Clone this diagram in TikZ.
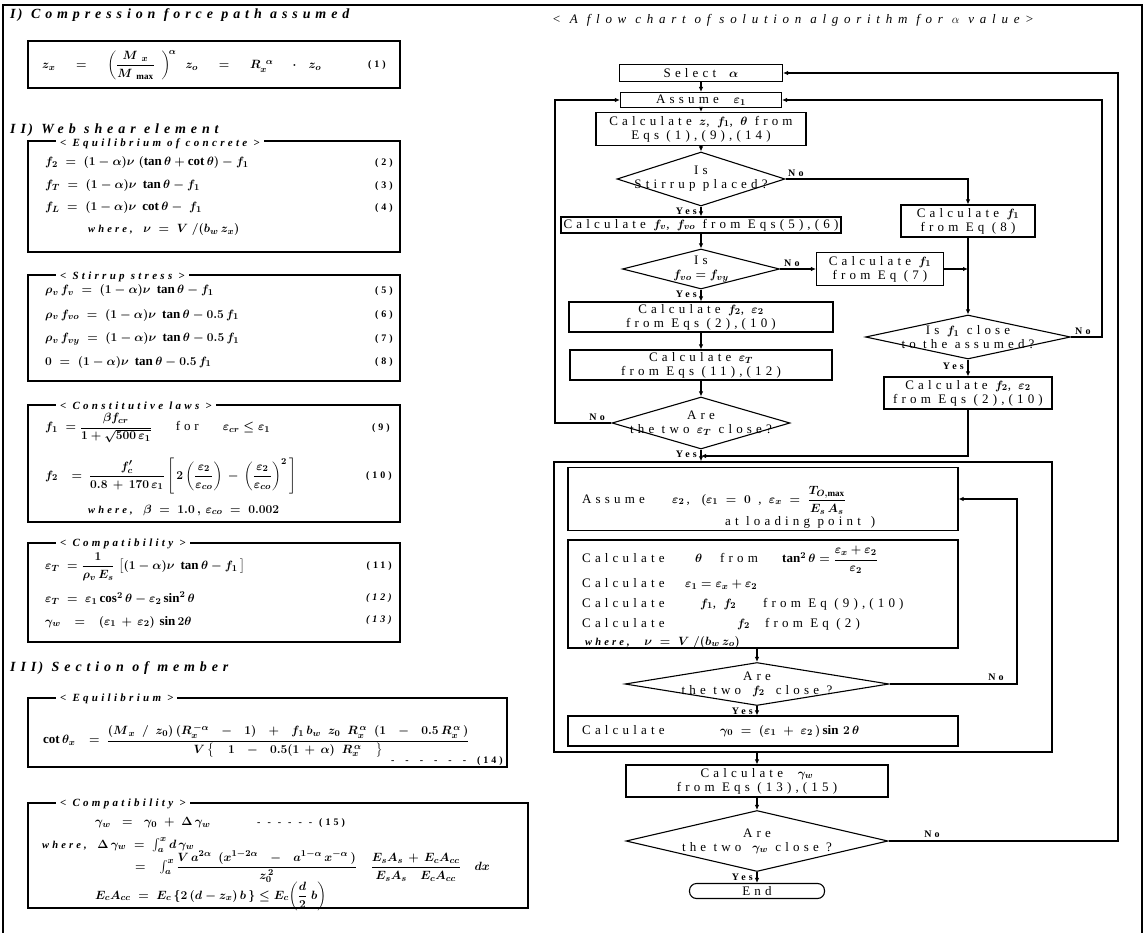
\documentclass[tikz,border=0pt]{standalone}
\usepackage{amsmath}
\usepackage{fontspec}
\setmainfont{Liberation Serif}
\newfontfamily\spfont[LetterSpace=32]{Liberation Serif}
\newfontfamily\hfont[LetterSpace=30]{Liberation Serif}
\newfontfamily\sfont[LetterSpace=35]{Liberation Serif}
\newfontfamily\tfont[LetterSpace=44]{Liberation Serif}
\usetikzlibrary{shapes.geometric,arrows.meta}

\newcommand{\fcfont}{\spfont\fontsize{13}{14}\selectfont\boldmath}
\newcommand{\ynfont}{\spfont\bfseries\fontsize{10}{11}\selectfont}
\newcommand{\eqfont}{\fontsize{13}{15}\selectfont\boldmath}
\newcommand{\eqwfont}{\fontsize{13}{15}\selectfont\boldmath\medmuskip=7mu\thickmuskip=9mu}
\newcommand{\numfont}{\hfont\bfseries\fontsize{10}{11}\selectfont}
\newcommand{\hdfont}{\hfont\bfseries\itshape\fontsize{11}{12}\selectfont}
\newcommand{\secfont}{\sfont\bfseries\itshape\fontsize{14}{15}\selectfont}
\newcommand{\whr}{{\hfont\bfseries\itshape\fontsize{10.5}{12}\selectfont where,}}
\newcommand{\dashnum}[2]{{\hfont\bfseries\fontsize{10}{11}\selectfont -\hspace{#1}-\hspace{#1}-\hspace{#1}-\hspace{#1}-\hspace{#1}-\hspace{#1}(#2)}}

\begin{document}
\begin{tikzpicture}[x=1pt,y=-1pt,
  frm/.style={line width=1.1pt},
  box/.style={draw,rectangle,line width=1.1pt,inner sep=0pt,align=center,font=\fcfont},
  dia/.style={draw,diamond,line width=1.1pt,inner sep=0pt},
  ftxt/.style={inner sep=0pt,align=center,font=\fcfont},
  yn/.style={inner sep=0pt,font=\ynfont},
  arr/.style={line width=1.1pt,-{Latex[length=5pt,width=4.5pt]}},
  eqn/.style={anchor=west,inner sep=0pt,font=\eqfont},
  eqw/.style={anchor=west,inner sep=0pt,font=\eqwfont},
  num/.style={anchor=east,inner sep=0pt,font=\numfont},
  hd/.style={anchor=west,fill=white,inner xsep=4pt,inner ysep=1pt,font=\hdfont},
  sec/.style={anchor=west,inner sep=0pt,font=\secfont}]

\useasboundingbox (0,0) rectangle (1145,933);

\draw[frm] (3,933) -- (3,5) -- (1142,5) -- (1142,933);

% left column
\node[sec] (secI) at (10,15) {I\,) Compression force path assumed};
\draw[line width=1.6pt] (28,41) rectangle (400,88);
\node[eqw] (eqA) at (42,65) {$z_x \;\;=\;\; \left(\dfrac{M_{\;x}}{M_{\;\mathrm{max}}}\;\right)^{\!\alpha}\; z_o \;\;=\;\; R_x^{\;\alpha}\;\;\cdot\; z_o$};
\node[num] (nA) at (386,65) {(1)};

\node[sec] (secII) at (10,130) {II\,) Web shear element};
\draw[frm] (28,141) rectangle (400,252);
\node[hd] (hdB) at (56,144) {< Equilibrium of concrete >};
\node[eqn] (eqB) at (45,163) {$f_2 \;=\; (1-\alpha)\nu\;(\tan\theta + \cot\theta) - f_1$};
\node[num] (nB) at (393,163) {(2)};
\node[eqn] (eqC) at (45,186) {$f_T \;=\; (1-\alpha)\nu\;\tan\theta - f_1$};
\node[num] (nC) at (393,186) {(3)};
\node[eqn] (eqD) at (45,208) {$f_L \;=\; (1-\alpha)\nu\;\cot\theta - \;f_1$};
\node[num] (nD) at (393,208) {(4)};
\node[eqn] (whB) at (88,230) {\whr\;\; $\nu \;=\; V\;/(b_w\, z_x)$};

\draw[frm] (28,275) rectangle (400,381);
\node[hd] (hdC) at (56,277) {< Stirrup stress >};
\node[eqn] (eqE) at (45,291) {$\rho_v\, f_v \;=\; (1-\alpha)\nu\;\tan\theta - f_1$};
\node[num] (nE) at (393,291) {(5)};
\node[eqn] (eqF) at (45,315) {$\rho_v\, f_{vo} \;=\; (1-\alpha)\nu\;\tan\theta - 0.5\,f_1$};
\node[num] (nF) at (393,315) {(6)};
\node[eqn] (eqG) at (45,339) {$\rho_v\, f_{vy} \;=\; (1-\alpha)\nu\;\tan\theta - 0.5\,f_1$};
\node[num] (nG) at (393,339) {(7)};
\node[eqn] (eqH) at (45,362) {$0 \;=\; (1-\alpha)\nu\;\tan\theta - 0.5\,f_1$};
\node[num] (nH) at (393,362) {(8)};

\draw[frm] (28,405) rectangle (400,522);
\node[hd] (hdD) at (56,406) {< Constitutive laws >};
\node[eqn] (eqI) at (45,428) {$f_1 \;=\dfrac{\beta f_{cr}}{1+\sqrt{500\,\varepsilon_1}}$\hspace{24pt}{\hfont for}\hspace{24pt}$\varepsilon_{cr} \le \varepsilon_1$};
\node[num] (nI) at (390,428) {(9)};
\node[eqw] (eqJ) at (45,476) {$f_2 \;=\dfrac{f_c'}{0.8+170\,\varepsilon_1}\left[\,2\left(\dfrac{\varepsilon_2}{\varepsilon_{co}}\right) - \left(\dfrac{\varepsilon_2}{\varepsilon_{co}}\right)^{2}\,\right]$};
\node[num] (nJ) at (392,476) {(10)};
\node[eqn] (whD) at (88,510) {\whr\;\; $\beta \;=\; 1.0\,,\,\varepsilon_{co} \;=\; 0.002$};

\draw[frm] (28,543) rectangle (400,642);
\node[hd] (hdE) at (56,544) {< Compatibility >};
\node[eqn] (eqK) at (45,567) {$\varepsilon_T \;=\dfrac{1}{\rho_v\, E_s}\;\bigl[(1-\alpha)\nu\;\tan\theta - f_1\,\bigr]$};
\node[num] (nK) at (392,566) {(11)};
\node[eqn] (eqL) at (45,598) {$\varepsilon_T \;=\; \varepsilon_1\cos^2\theta - \varepsilon_2\sin^2\theta$};
\node[num] (nL) at (392,598) {\itshape(12)};
\node[eqw] (eqM) at (45,622) {$\gamma_w \;=\; (\varepsilon_1 + \varepsilon_2)\,\sin 2\theta$};
\node[num] (nM) at (392,620) {\itshape(13)};

\node[sec] (secIII) at (10,668) {III\,) Section of member};
\draw[frm] (28,698) rectangle (507,767);
\node[hd] (hdF) at (56,699) {< Equilibrium >};
\node[eqw] (eqN) at (43,741) {$\cot\theta_x \;=\dfrac{(M_{\,x}\;/\;z_0)\,(R_x^{\,-\alpha}\;-\;1)\;+\;f_1\,b_w\;z_0\;R_x^{\,\alpha}\;(1\;-\;0.5\,R_x^{\,\alpha}\,)}{V\left\{\;\;1\;-\;0.5(1+\alpha)\;R_x^{\,\alpha}\;\;\right\}}$};
\node[num] (nN) at (503,761) {\dashnum{11pt}{14}};

\draw[frm] (28,803) rectangle (528,908);
\node[hd] (hdG) at (56,804) {< Compatibility >};
\node[eqn] (eqO) at (95,823) {$\gamma_w \;\;=\;\; \gamma_0 \;+\; \Delta\,\gamma_w$};
\node[num,anchor=west] (nO) at (257,823) {\dashnum{7pt}{15}};
\node[eqn] (eqP) at (42,845) {\whr\;\; $\Delta\,\gamma_w \;=\; \textstyle\int_a^x d\,\gamma_w$};
\node[eqw] (eqQ) at (135,867) {$=\; \textstyle\int_a^x\displaystyle\frac{V\, a^{2\alpha}\;(x^{1-2\alpha} \;-\; a^{1-\alpha}\,x^{-\alpha}\,)}{z_0^{\,2}}\;\;\frac{E_s A_s + E_c A_{cc}}{E_s A_s\;\; E_c A_{cc}}\;\;dx$};
\node[eqn] (eqR) at (95,896) {$E_c A_{cc} \;=\; E_c\left\{2\,(d - z_x)\,b\,\right\} \le E_c\!\left(\dfrac{d}{2}\;b\right)$};

% flow chart
\node[anchor=west,inner sep=0pt,font=\tfont\itshape\fontsize{13}{14}\selectfont] (ttl) at (552,20) {< A flow chart of solution algorithm for $\alpha$ value>};

\node[box,minimum width=163pt,minimum height=17pt] (sel) at (701,73) {Select\quad $\alpha$};
\node[box,minimum width=161pt,minimum height=15pt] (asma) at (701,100) {Assume\ \ $\varepsilon_1$};
\node[box,minimum width=210pt,minimum height=33pt] (calz) at (701,129) {Calculate $z$, $f_1$, $\theta$ from\\ Eqs (1),(9),(14)};
\node[dia,minimum width=168pt,minimum height=54pt] (stir) at (701,179) {};
\node[ftxt] (stirt) at (stir) {Is\\Stirrup placed?};
\node[box,minimum width=280pt,minimum height=16pt] (calv) at (701,225) {Calculate $f_v$, $f_{vo}$ from Eqs(5),(6)};
\node[dia,minimum width=157pt,minimum height=40pt] (fvo) at (701,269) {};
\node[ftxt] (fvot) at (fvo) {Is\\$f_{vo} = f_{vy}$};
\node[box,minimum width=264pt,minimum height=30pt] (calf) at (701,317) {Calculate $f_2$, $\varepsilon_2$\\from Eqs (2),(10)};
\node[box,minimum width=262pt,minimum height=30pt] (calt) at (701,365) {Calculate $\varepsilon_T$\\from Eqs (11),(12)};
\node[dia,minimum width=178pt,minimum height=52pt] (aret) at (701,423) {};
\node[ftxt] (arett) at (aret) {Are\\the two $\varepsilon_T$ close?};

\node[box,minimum width=134pt,minimum height=32pt] (ceq8) at (968,221) {Calculate $f_1$\\from Eq (8)};
\node[box,minimum width=127pt,minimum height=33pt] (ceq7) at (880,269) {Calculate $f_1$\\from Eq (7)};
\node[dia,minimum width=205pt,minimum height=44pt] (isf) at (968,337) {};
\node[ftxt] (isft) at (isf) {Is $f_1$ close\\to the assumed?};
\node[box,minimum width=168pt,minimum height=32pt] (calr) at (968,393) {Calculate $f_2$, $\varepsilon_2$\\from Eqs (2),(10)};

\node[draw,line width=1.4pt,minimum width=498pt,minimum height=290pt] (lbox) at (803,607) {};
\node[box,minimum width=390pt,minimum height=63pt] (asmb) at (763,499) {};
\node[ftxt,anchor=west] (asmbt) at (582,500) {\rlap{Assume}\hspace{90pt}$\varepsilon_2$\,,\hspace{12pt}($\varepsilon_1 \;=\; 0$ , $\varepsilon_x \;=\; \dfrac{T_{O,\max}}{E_s\,A_s}$};
\node[ftxt,anchor=west] (asmbu) at (725,522) {at loading point\hspace{10pt})};
\node[box,minimum width=390pt,minimum height=108pt] (calth) at (763,594) {};
\node[ftxt,anchor=west] (tha) at (582,560) {\rlap{Calculate}\hspace{113pt}\rlap{$\theta$}\hspace{25pt}\rlap{from}\hspace{62pt}$\tan^2\theta = \dfrac{\varepsilon_x + \varepsilon_2}{\varepsilon_2}$};
\node[ftxt,anchor=west] (thb) at (582,584) {\rlap{Calculate}\hspace{103pt}$\varepsilon_1 = \varepsilon_x + \varepsilon_2$};
\node[ftxt,anchor=west] (thc) at (582,604) {\rlap{Calculate}\hspace{118pt}\rlap{$f_1$, $f_2$}\hspace{63pt}from Eq (9),(10)};
\node[ftxt,anchor=west] (thd) at (582,624) {\rlap{Calculate}\hspace{155pt}\rlap{$f_2$}\hspace{28pt}from Eq (2)};
\node[ftxt,anchor=west] (the) at (585,642) {\whr\;\; $\nu \;=\; V\;/(b_w\, z_o)$};
\node[dia,minimum width=264pt,minimum height=43pt] (aref) at (757,684) {};
\node[ftxt] (areft) at (aref) {Are\\the two\; $f_2$\; close ?};
\node[box,minimum width=390pt,minimum height=30pt] (calg) at (763,731) {};
\node[ftxt,anchor=west] (calgt) at (582,731) {\rlap{Calculate}\hspace{138pt}$\gamma_0 \;=\; (\varepsilon_1 \;+\; \varepsilon_2\,)\sin\, 2\,\theta$};

\node[box,minimum width=262pt,minimum height=32pt] (calw) at (757,781) {Calculate\ \ $\gamma_w$\\from Eqs (13),(15)};
\node[dia,minimum width=262pt,minimum height=61pt] (arew) at (757,841) {};
\node[ftxt] (arewt) at (arew) {Are\\the two\; $\gamma_w$ close ?};
\node[box,rounded corners=7pt,minimum width=135pt,minimum height=15pt] (fin) at (757,891) {End};

\coordinate (mrg) at (701,456);
\coordinate (lft) at (555,100);
\coordinate (rta) at (1102,100);
\coordinate (rtb) at (1118,73);
\coordinate (rtc) at (1017,499);

\draw[arr] (sel) -- (asma);
\draw[arr] (asma) -- (calz);
\draw[arr] (calz) -- (stir);
\draw[arr] (stir) -- (calv);
\draw[arr] (calv) -- (fvo);
\draw[arr] (fvo) -- (calf);
\draw[arr] (calf) -- (calt);
\draw[arr] (calt) -- (aret);
\draw[arr] (stir.east) -| (ceq8.north);
\draw[arr] (fvo.east) -- (ceq7.west);
\draw[arr] (ceq7.east) -- (ceq7.east -| ceq8.south);
\draw[arr] (ceq8.south) -- (isf.north);
\draw[arr] (isf.south) -- (calr.north);
\draw[arr] (isf.east) -| (rta) -- (asma.east);
\draw[arr] (aret.west) -| (lft) -- (asma.west);
\draw[arr] (calr.south) |- (mrg);
\draw[arr] (aret.south) -- (aret.south |- lbox.north);
\draw[arr] (calth.south -| aref.north) -- (aref.north);
\draw[arr] (aref.south) -- (aref.south |- calg.north);
\draw[arr] (aref.east) -| (rtc) -- (asmb.east);
\draw[arr] (lbox.south -| calw.north) -- (calw.north);
\draw[arr] (calw) -- (arew);
\draw[arr] (arew) -- (fin);
\draw[arr] (arew.east) -| (rtb) -- (sel.east);

\node[yn,anchor=south west] (nsa) at (788,177) {No};
\node[yn,anchor=east] (ysa) at (697,211) {Yes};
\node[yn,anchor=south west] (nsb) at (784,267) {No};
\node[yn,anchor=east] (ysb) at (697,294) {Yes};
\node[yn,anchor=south east] (nsc) at (605,421) {No};
\node[yn,anchor=east] (ysc) at (697,454) {Yes};
\node[yn,anchor=south west] (nsd) at (1075,335) {No};
\node[yn,anchor=east] (ysd) at (964,366) {Yes};
\node[yn,anchor=south] (nse) at (996,681) {No};
\node[yn,anchor=east] (yse) at (753,711) {Yes};
\node[yn,anchor=south] (nsf) at (932,838) {No};
\node[yn,anchor=east] (ysf) at (753,877) {Yes};

\end{tikzpicture}
\end{document}
